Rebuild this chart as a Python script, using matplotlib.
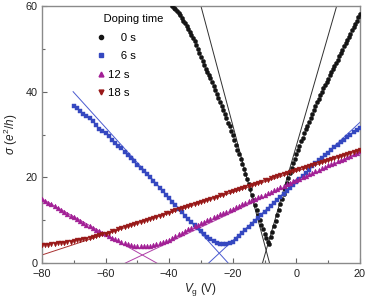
import numpy as np
import matplotlib
matplotlib.use("Agg")
import matplotlib.pyplot as plt
from matplotlib.lines import Line2D
from matplotlib import font_manager

_names = {f.name for f in font_manager.fontManager.ttflist}
NARROW = 'Liberation Sans Narrow' if 'Liberation Sans Narrow' in _names else 'Liberation Sans'
plt.rcParams['font.family'] = ['Liberation Sans', 'DejaVu Sans']
plt.rcParams['mathtext.fontset'] = 'custom'
plt.rcParams['mathtext.rm'] = NARROW
plt.rcParams['mathtext.it'] = NARROW + ':italic'

# ---------------- data ----------------
labels = ['0 s', '6 s', '12 s', '18 s']

# 0 s (black), gate voltage step 0.5 V
vg_0s = np.arange(-39.0, 20.01, 0.5)
sigma_0s = [
    60.0, 59.6, 59.2, 58.8, 58.3, 57.8, 57.2, 56.6, 56.0, 55.4,
    54.7, 54.0, 53.3, 52.6, 51.8, 50.9, 50.0, 49.0, 48.0, 47.1,
    46.2, 45.4, 44.6, 43.9, 43.1, 42.2, 41.3, 40.3, 39.4, 38.5,
    37.6, 36.6, 35.7, 34.7, 33.8, 32.8, 31.9, 30.8, 29.8, 28.7,
    27.6, 26.5, 25.4, 24.3, 23.2, 22.0, 20.8, 19.6, 18.4, 17.2,
    16.0, 14.8, 13.6, 12.4, 11.3, 10.1, 9.0, 7.9, 6.9, 5.9,
    5.0, 4.5,
    6.0, 7.3, 8.6, 9.9, 11.2, 12.5, 13.8, 15.0, 16.2, 17.4,
    18.6, 19.8, 21.0, 22.2, 23.3, 24.4, 25.4, 26.4, 27.4, 28.4,
    29.3, 30.3, 31.2, 32.1, 33.0, 33.9, 34.8, 35.7, 36.6, 37.5,
    38.3, 39.2, 40.0, 40.8, 41.6, 42.3, 43.0, 43.8, 44.6, 45.3,
    46.0, 46.8, 47.5, 48.3, 49.0, 49.8, 50.6, 51.3, 52.0, 52.8,
    53.5, 54.3, 55.0, 55.8, 56.6, 57.4, 58.2,
]

# 6 s (blue), step 1 V
vg_6s = np.arange(-70, 21, 1)
sigma_6s = [
    36.6, 36.1, 35.6, 34.9, 34.3, 33.8, 33.1, 32.3, 31.4, 30.9,
    30.4, 29.7, 28.8, 28.0, 27.4, 26.8, 26.0, 25.3, 24.6, 23.8,
    23.0, 22.3, 21.5, 20.8, 20.0, 19.2, 18.4, 17.6, 16.8, 16.0,
    15.1, 14.3, 13.5, 12.7, 11.9, 11.1, 10.3, 9.5, 8.8, 8.1,
    7.4, 6.8, 6.2, 5.7, 5.2, 4.8, 4.5, 4.4, 4.4,
    4.6, 5.0, 5.6, 6.3, 7.0, 7.7, 8.4, 9.1, 9.8, 10.6,
    11.3, 12.0, 12.7, 13.4, 14.1, 14.8, 15.5, 16.2, 16.9, 17.6,
    18.3, 19.0, 19.7, 20.4, 21.1, 21.8, 22.6, 23.3, 24.0, 24.6,
    25.2, 25.8, 26.4, 27.0, 27.6, 28.2, 28.8, 29.4, 30.0, 30.6,
    31.1, 31.6,
]

# 12 s (purple), step 1 V
vg_12s = np.arange(-80, 21, 1)
sigma_12s = [
    15.0, 14.6, 14.1, 13.7, 13.3, 12.8, 12.4, 12.0, 11.5, 11.1,
    10.7, 10.3, 9.8, 9.4, 9.0, 8.6, 8.2, 7.8, 7.4, 7.0,
    6.7, 6.3, 5.9, 5.6, 5.3, 5.0, 4.7, 4.5, 4.3, 4.1,
    4.0, 4.0, 4.0, 4.0, 4.1, 4.2, 4.4, 4.6, 4.9, 5.2,
    5.5, 5.9, 6.3, 6.7, 7.1, 7.5, 7.9, 8.3, 8.7, 9.0,
    9.4, 9.7, 10.0, 10.4, 10.7, 11.0, 11.4, 11.7, 12.0, 12.4,
    12.7, 13.0, 13.4, 13.7, 14.0, 14.4, 14.7, 15.0, 15.4, 15.7,
    16.0, 16.4, 16.7, 17.0, 17.4, 17.7, 18.0, 18.4, 18.7, 19.1,
    19.4, 19.7, 20.1, 20.4, 20.8, 21.1, 21.4, 21.8, 22.1, 22.4,
    22.8, 23.1, 23.4, 23.8, 24.1, 24.4, 24.8, 25.1, 25.4, 25.8,
    26.1,
]

# 18 s (red), step 1 V
vg_18s = np.arange(-80, 21, 1)
sigma_18s = [
    4.2, 4.3, 4.3, 4.4, 4.5, 4.6, 4.7, 4.8, 4.9, 5.0,
    5.1, 5.3, 5.4, 5.6, 5.7, 5.9, 6.1, 6.3, 6.5, 6.7,
    6.9, 7.1, 7.4, 7.6, 7.9, 8.1, 8.4, 8.6, 8.9, 9.1,
    9.4, 9.6, 9.9, 10.1, 10.4, 10.6, 10.8, 11.1, 11.3, 11.6,
    11.8, 12.1, 12.3, 12.6, 12.8, 13.0, 13.3, 13.5, 13.8, 14.0,
    14.3, 14.5, 14.8, 15.0, 15.3, 15.5, 15.8, 16.0, 16.3, 16.5,
    16.8, 17.0, 17.3, 17.5, 17.8, 18.0, 18.3, 18.5, 18.8, 19.0,
    19.3, 19.5, 19.8, 20.0, 20.3, 20.5, 20.8, 21.0, 21.3, 21.5,
    21.8, 22.0, 22.2, 22.5, 22.7, 22.9, 23.2, 23.4, 23.6, 23.9,
    24.1, 24.3, 24.6, 24.8, 25.0, 25.3, 25.5, 25.7, 25.9, 26.1,
    26.3,
]

# linear fits: (series index, slope, intercept, Vg start, Vg end)
fit_series = [0, 0, 1, 1, 2, 2, 3]
fit_slope = [-2.78, 2.57, -0.82, 0.69, -0.415, 0.352, 0.244]
fit_intercept = [-23.4, 27.36, -17.56, 19.04, -18.2, 18.94, 21.42]
fit_start = [-31.0, -11.0, -70.2, -27.6, -80.0, -53.8, -80.0]
fit_end = [-8.0, 14.0, -21.0, 20.0, -43.5, 20.0, 20.0]

xticks = [-80, -60, -40, -20, 0, 20]
yticks = [0, 20, 40, 60]

# ---------------- style ----------------
marker_colors = ['#151515', '#3548c0', '#a21f95', '#981818']
line_colors = ['#303030', '#4a5ad0', '#b040a8', '#a83030']
markers = ['o', 's', '^', 'v']
msizes = [3.0, 2.7, 3.5, 3.5]

fig = plt.figure(figsize=(3.68, 2.99), dpi=100)
ax = fig.add_axes([0.114, 0.120, 0.864, 0.860])

series = [(vg_0s, sigma_0s), (vg_6s, sigma_6s), (vg_12s, sigma_12s), (vg_18s, sigma_18s)]

for i in range(len(fit_slope)):
    v = np.linspace(fit_start[i], fit_end[i], 50)
    s = fit_slope[i] * v + fit_intercept[i]
    ax.plot(v, s, color=line_colors[fit_series[i]], lw=0.7, zorder=2, clip_on=True)

for i, (v, s) in enumerate(series):
    ax.plot(v, s, linestyle='none', marker=markers[i], ms=msizes[i],
            mfc=marker_colors[i], mec=marker_colors[i], mew=0.3, zorder=3,
            label=labels[i])

ax.set_xlim(-80, 20)
ax.set_ylim(0, 60)
ax.set_xticks(xticks)
ax.set_yticks(yticks)
ax.set_xticklabels(['\u2212%d' % -t if t < 0 else '%d' % t for t in xticks])
ax.set_xticks(np.arange(-70, 20, 20), minor=True)
ax.set_yticks([10, 30, 50], minor=True)
ax.tick_params(which='both', direction='in', colors='#666666', labelcolor='#222222',
               labelsize=7.8, width=0.8)
ax.tick_params(which='major', length=3.5)
ax.tick_params(axis='x', which='major', pad=4.5)
ax.tick_params(axis='y', which='major', pad=3)
ax.tick_params(which='minor', length=2.5)
for sp in ax.spines.values():
    sp.set_color('#8a8a8a')
    sp.set_linewidth(1.0)

ax.set_xlabel(r'$V_{\rm g}$ (V)', fontsize=8.5, color='#222222', family=NARROW)
ax.set_ylabel(r'$\sigma$ ($e^2/h$)', fontsize=8.5, color='#222222', family=NARROW)
ax.xaxis.set_label_coords(0.5, -0.068)
ax.yaxis.set_label_coords(-0.07, 0.5)

handles = [Line2D([], [], linestyle='none', marker=markers[i], ms=msizes[i],
                  mfc=marker_colors[i], mec=marker_colors[i]) for i in range(4)]
disp = ['\u2007\u20070 s', '\u2007\u20076 s', '12 s', '18 s']
leg = ax.legend(handles, disp, title='\u2002Doping time', loc='upper left',
                bbox_to_anchor=(0.157, 0.99), frameon=False,
                prop={'family': [NARROW, 'DejaVu Sans'], 'size': 8.2},
                handlelength=0.6, handletextpad=0.35,
                labelspacing=0.74, borderpad=0.0)
leg.get_title().set_fontfamily([NARROW, 'DejaVu Sans'])
leg.get_title().set_fontsize(8.0)
leg._legend_box.align = 'left'

fig.savefig('out.png', dpi=100)
